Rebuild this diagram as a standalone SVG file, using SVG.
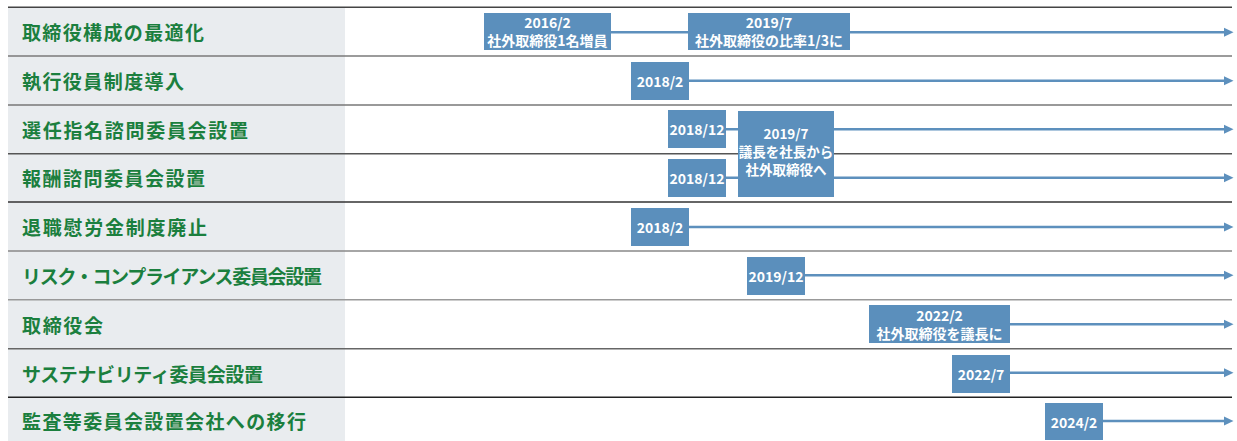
<svg xmlns="http://www.w3.org/2000/svg" width="1237" height="441" viewBox="0 0 1237 441">
<style>
.lbl{font-family:"Noto Sans CJK JP","Liberation Sans",sans-serif;font-weight:bold;font-size:19px;fill:#1b7f3e;dominant-baseline:central}
.box{fill:#5b8fbc}
.bt{font-family:"Noto Sans CJK JP","Liberation Sans",sans-serif;font-weight:bold;font-size:14px;fill:#ffffff;text-anchor:middle;dominant-baseline:central}
.bt3{font-size:13.5px}
.sep{stroke-width:1.4}
.arr{stroke:#5d90bd;stroke-width:2.6;fill:none;marker-end:url(#ah)}
</style>
<defs>
<marker id="ah" markerWidth="10" markerHeight="10" refX="0" refY="5" orient="auto" markerUnits="userSpaceOnUse" viewBox="0 0 10 10">
<path d="M0,0.5 L9.5,5 L0,9.5 Z" fill="#5d90bd"/>
</marker>
</defs>
<rect width="1237" height="441" fill="#ffffff"/>
<rect x="8" y="7" width="337" height="434" fill="#e9ecef"/>
<g id="separators">
<line class="sep" x1="8" y1="7.3" x2="1232" y2="7.3" stroke="#444"/>
<line class="sep" x1="8" y1="56" x2="1232" y2="56" stroke="#7a7a7a"/>
<line class="sep" x1="8" y1="105" x2="1232" y2="105" stroke="#777"/>
<line class="sep" x1="8" y1="153.7" x2="1232" y2="153.7" stroke="#555"/>
<line class="sep" x1="8" y1="202" x2="1232" y2="202" stroke="#333"/>
<line class="sep" x1="8" y1="251" x2="1232" y2="251" stroke="#888"/>
<line class="sep" x1="8" y1="299.7" x2="1232" y2="299.7" stroke="#999"/>
<line class="sep" x1="8" y1="348.7" x2="1232" y2="348.7" stroke="#666"/>
<line class="sep" x1="8" y1="397.3" x2="1232" y2="397.3" stroke="#222"/>
</g>
<g id="labels">
<text class="lbl" x="22" y="31.7" textLength="182" lengthAdjust="spacing">取締役構成の最適化</text>
<text class="lbl" x="22" y="80.5" textLength="162" lengthAdjust="spacing">執行役員制度導入</text>
<text class="lbl" x="22" y="129.3" textLength="226" lengthAdjust="spacing">選任指名諮問委員会設置</text>
<text class="lbl" x="22" y="177.8" textLength="183" lengthAdjust="spacing">報酬諮問委員会設置</text>
<text class="lbl" x="22" y="226.5" textLength="185" lengthAdjust="spacing">退職慰労金制度廃止</text>
<text class="lbl" x="22" y="275.3" textLength="300" lengthAdjust="spacing">リスク・コンプライアンス委員会設置</text>
<text class="lbl" x="22" y="324.2" textLength="81" lengthAdjust="spacing">取締役会</text>
<text class="lbl" x="22" y="373" textLength="241" lengthAdjust="spacing">サステナビリティ委員会設置</text>
<text class="lbl" x="22" y="420" textLength="284" lengthAdjust="spacing">監査等委員会設置会社への移行</text>
</g>
<g id="connectors">
<line class="arr" x1="611" y1="32.3" x2="1224" y2="32.3"/>
<line class="arr" x1="689" y1="80.7" x2="1224" y2="80.7"/>
<line class="arr" x1="726" y1="129.3" x2="1224" y2="129.3"/>
<line class="arr" x1="726" y1="177.7" x2="1224" y2="177.7"/>
<line class="arr" x1="689" y1="227" x2="1224" y2="227"/>
<line class="arr" x1="805" y1="275.3" x2="1224" y2="275.3"/>
<line class="arr" x1="1010" y1="324.3" x2="1224" y2="324.3"/>
<line class="arr" x1="1010" y1="372.7" x2="1224" y2="372.7"/>
<line class="arr" x1="1103" y1="421" x2="1224" y2="421"/>
</g>
<g id="n-2016-2">
<rect class="box" x="484" y="13" width="127" height="37"/>
<text class="bt" x="547.5" y="22">2016/2</text>
<text class="bt" x="547.5" y="40">社外取締役1名増員</text>
</g>
<g id="n-2019-7a">
<rect class="box" x="688" y="13" width="162" height="37"/>
<text class="bt" x="769" y="22">2019/7</text>
<text class="bt" x="769" y="40">社外取締役の比率1/3に</text>
</g>
<g id="n-2018-2a">
<rect class="box" x="631" y="62" width="58" height="38"/>
<text class="bt" x="660" y="81">2018/2</text>
</g>
<g id="n-2018-12a">
<rect class="box" x="668" y="110" width="58" height="38"/>
<text class="bt" x="697" y="129.3">2018/12</text>
</g>
<g id="n-2018-12b">
<rect class="box" x="668" y="159" width="58" height="38"/>
<text class="bt" x="697" y="178">2018/12</text>
</g>
<g id="n-2019-7b">
<rect class="box" x="738" y="111" width="96" height="86"/>
<text class="bt bt3" x="786" y="133">2019/7</text>
<text class="bt bt3" x="786" y="151">議長を社長から</text>
<text class="bt bt3" x="786" y="169">社外取締役へ</text>
</g>
<g id="n-2018-2b">
<rect class="box" x="631" y="208" width="58" height="38"/>
<text class="bt" x="660" y="227">2018/2</text>
</g>
<g id="n-2019-12">
<rect class="box" x="747" y="257" width="58" height="38"/>
<text class="bt" x="776" y="275.5">2019/12</text>
</g>
<g id="n-2022-2">
<rect class="box" x="869" y="305" width="141" height="38"/>
<text class="bt" x="939.5" y="315">2022/2</text>
<text class="bt" x="939.5" y="333">社外取締役を議長に</text>
</g>
<g id="n-2022-7">
<rect class="box" x="952" y="355" width="58" height="38"/>
<text class="bt" x="981" y="373.5">2022/7</text>
</g>
<g id="n-2024-2">
<rect class="box" x="1045" y="403" width="58" height="37"/>
<text class="bt" x="1074" y="421.5">2024/2</text>
</g>
</svg>
